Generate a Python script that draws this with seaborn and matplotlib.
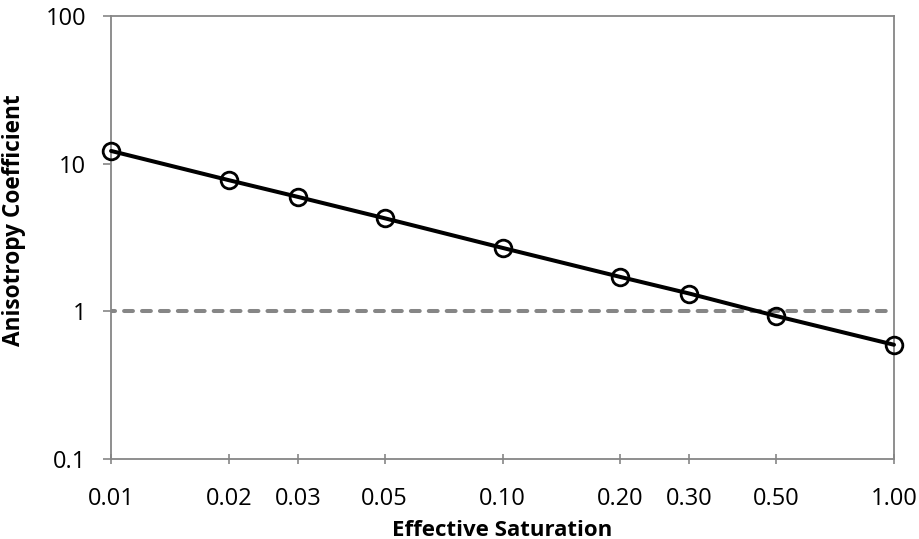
import matplotlib
matplotlib.use("Agg")
import matplotlib.pyplot as plt
import matplotlib.ticker as mticker
import seaborn as sns
import pandas as pd

# Effective saturation and the corresponding anisotropy coefficient
saturation = [0.01, 0.02, 0.03, 0.05, 0.10, 0.20, 0.30, 0.50, 1.00]
anisotropy = [12.2, 7.73, 5.96, 4.27, 2.69, 1.71, 1.32, 0.93, 0.594]
x_ticks = [0.01, 0.02, 0.03, 0.05, 0.10, 0.20, 0.30, 0.50, 1.00]
x_tick_labels = ["0.01", "0.02", "0.03", "0.05", "0.10", "0.20", "0.30", "0.50", "1.00"]
y_ticks = [0.1, 1, 10, 100]
y_tick_labels = ["0.1", "1", "10", "100"]
reference_level = 1.0

sns.set_theme(style="white")
plt.rcParams["font.family"] = ["Open Sans", "DejaVu Sans"]

df = pd.DataFrame({"Effective Saturation": saturation,
                   "Anisotropy Coefficient": anisotropy})

fig = plt.figure(figsize=(9.2, 5.39), dpi=100)
ax = fig.add_axes([0.1207, 0.1484, 0.8510, 0.8219])

axis_gray = "#868686"

ax.set_xscale("log")
ax.set_yscale("log")

# Reference line at coefficient = 1
ax.axhline(reference_level, color=axis_gray, lw=2.9, ls=(1.2, (2.2, 2.25)),
           dash_capstyle="round", zorder=1)

sns.lineplot(data=df, x="Effective Saturation", y="Anisotropy Coefficient", ax=ax,
             color="black", lw=2.9, marker="o", markersize=12,
             markerfacecolor="none", markeredgecolor="black", markeredgewidth=2.0,
             zorder=3, clip_on=False)

ax.set_xlim(0.01, 1.0)
ax.set_ylim(0.1, 100)

ax.xaxis.set_major_locator(mticker.FixedLocator(x_ticks))
ax.xaxis.set_major_formatter(mticker.FixedFormatter(x_tick_labels))
ax.xaxis.set_minor_locator(mticker.NullLocator())
ax.yaxis.set_major_locator(mticker.FixedLocator(y_ticks))
ax.yaxis.set_major_formatter(mticker.FixedFormatter(y_tick_labels))
ax.yaxis.set_minor_locator(mticker.NullLocator())

ax.tick_params(axis="x", which="major", direction="inout", length=6.5, width=1.2,
               color=axis_gray, labelsize=17, labelcolor="black", pad=17, bottom=True)
ax.tick_params(axis="y", which="major", direction="out", length=6, width=1.2,
               color=axis_gray, labelsize=17, labelcolor="black", pad=12, left=True)

for side in ["left", "right", "top", "bottom"]:
    ax.spines[side].set_visible(True)
    ax.spines[side].set_color(axis_gray)
    ax.spines[side].set_linewidth(1.3)

ax.set_xlabel("Effective Saturation", fontsize=16, fontweight="bold", color="black")
ax.set_ylabel("Anisotropy Coefficient", fontsize=16.3, fontweight="bold", color="black")
ax.xaxis.set_label_coords(0.5, -0.137)
ax.yaxis.set_label_coords(-0.1086, 0.5395)
ax.grid(False)

fig.savefig("out.png", dpi=100)
